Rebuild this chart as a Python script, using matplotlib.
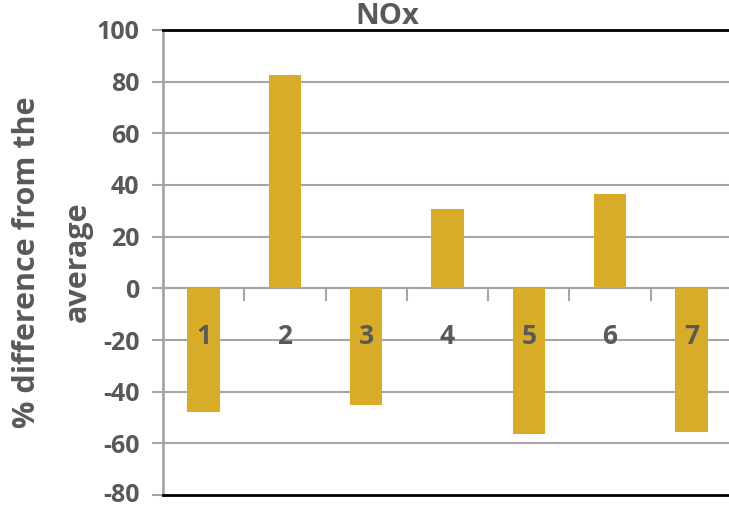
import matplotlib.pyplot as plt
import matplotlib.transforms as mtransforms

categories = ["1", "2", "3", "4", "5", "6", "7"]
nox_diff = [-48, 82.5, -45.3, 30.6, -56.5, 36.4, -55.7]
y_ticks = [-80, -60, -40, -20, 0, 20, 40, 60, 80, 100]

BAR_COLOR = "#D9AC28"
TEXT_COLOR = "#595959"
GRID_COLOR = "#A6A6A6"

plt.rcParams["font.family"] = ["Open Sans", "DejaVu Sans"]
plt.rcParams["font.weight"] = "bold"

fig = plt.figure(figsize=(7.29, 5.07), dpi=100)
ax = fig.add_axes([163 / 729, 1 - 495 / 507, (732 - 163) / 729, (495 - 30) / 507])

x = list(range(len(categories)))
ax.bar(x, nox_diff, width=0.4, color=BAR_COLOR, zorder=3)

ax.set_xlim(-0.5, len(categories) - 0.5)
ax.set_ylim(-80, 100)
ax.set_yticks(y_ticks)
ax.set_yticklabels([str(v) for v in y_ticks], fontsize=18, color=TEXT_COLOR,
                   fontweight="bold")
ax.tick_params(axis="y", length=8, width=1.5, color=GRID_COLOR, pad=9)
ax.set_xticks([])

# keep the lowest tick label inside the canvas
low = ax.get_yticklabels()[0]
low.set_transform(low.get_transform() +
                  mtransforms.ScaledTranslation(0, 2 / 72, fig.dpi_scale_trans))

# horizontal gridlines
for v in y_ticks[1:-1]:
    ax.axhline(v, color=GRID_COLOR, lw=1.5, zorder=1)

# category axis drawn along zero, with small ticks between groups
ax.axhline(0, color=GRID_COLOR, lw=1.5, zorder=2)
for b in range(1, len(categories)):
    ax.plot([b - 0.5, b - 0.5], [0, -4.5], color=GRID_COLOR, lw=1.5, zorder=2,
            clip_on=False)

for xi, label in zip(x, categories):
    ax.text(xi, -18.5, label, ha="center", va="center", fontsize=19,
            color=TEXT_COLOR, fontweight="bold", zorder=4)

for side in ["top", "bottom"]:
    ax.spines[side].set_color("black")
    ax.spines[side].set_linewidth(2)
ax.spines["left"].set_color(GRID_COLOR)
ax.spines["left"].set_linewidth(2)
ax.spines["right"].set_visible(False)

fig.text(387 / 729, 1 - 17 / 507, "NOx", ha="center", va="center", fontsize=21,
         color=TEXT_COLOR, fontweight="bold")

fig.text(27 / 729, 1 - 262 / 507, "% difference from the", rotation=90,
         ha="center", va="center", fontsize=22, color=TEXT_COLOR, fontweight="bold")
fig.text(78 / 729, 1 - 262 / 507, "average", rotation=90,
         ha="center", va="center", fontsize=22, color=TEXT_COLOR, fontweight="bold")

fig.savefig("out.png", dpi=100)
